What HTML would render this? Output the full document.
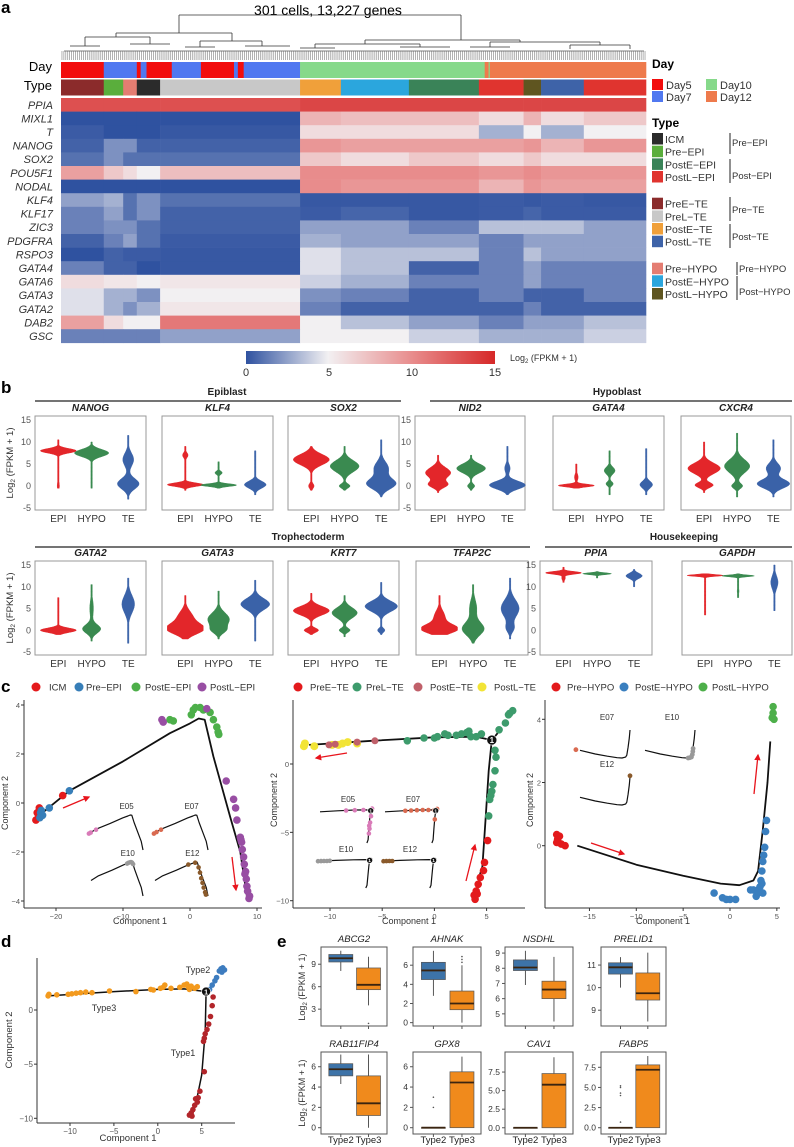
<!DOCTYPE html>
<html><head><meta charset="utf-8">
<style>
html,body{margin:0;padding:0;background:#fff;}
svg{display:block;font-family:"Liberation Sans",Arial,sans-serif;}
</style></head>
<body>
<svg id="fig" xmlns="http://www.w3.org/2000/svg" width="794" height="1147" viewBox="0 0 794 1147">
<defs>
<linearGradient id="cbar" x1="0" x2="1" y1="0" y2="0">
<stop offset="0" stop-color="#2f52a0"/><stop offset="0.33" stop-color="#f2f0f2"/><stop offset="0.667" stop-color="#e88c8c"/><stop offset="1" stop-color="#d62828"/>
</linearGradient>
<marker id="arr" viewBox="0 0 10 10" refX="8" refY="5" markerWidth="5" markerHeight="5" orient="auto"><path d="M0,0L10,5L0,10z" fill="#e8141c"/></marker>
</defs>
</svg>
<script>
// ---------------- DATA ----------------
const genes=['PPIA','MIXL1','T','NANOG','SOX2','POU5F1','NODAL','KLF4','KLF17','ZIC3','PDGFRA','RSPO3','GATA4','GATA6','GATA3','GATA2','DAB2','GSC'];
const typeBounds=[0,22,32,39,51,123,144,179,215,238,247,269,301];
const typeSegColors=['#8b2b2b','#5aae3c','#e47d72','#2b2b2b','#c8c8c8','#f0a03a','#2ba6dd','#3a8358','#e0342f','#5f5520','#3e63a8','#e0342f'];
const dayBounds=[0,22,39,41,44,57,72,89,91,94,123,218,222,301];
const daySegColors=['#f20d0d','#5078f0','#f20d0d','#5078f0','#f20d0d','#5078f0','#f20d0d','#5078f0','#f20d0d','#5078f0','#86d98a','#ee7a4c','#ee7a4c'];
const geneLevels=[
[13,13,13,13,13,13.5,13.5,13.5,13.5,13.5,13.5,13.5],
[0,0,0,0,0,8,7.5,7.5,6,8,6,7],
[0.3,0,0,0,0.2,6,6,6,3,5,3,5],
[0.5,2,2,0.5,0.5,9.5,9,9,9,9.5,8,9.5],
[1,2,1,1,1,7,6,7,6,7,6,6],
[9,7,6,5,7.5,10,10,10,9.5,10,9.5,9.5],
[0,0,0,0,0,10,9.5,9.5,8,9.5,9,9],
[2.5,3,1,2,1,0.2,0.2,0.2,0.3,0.2,0.3,0.2],
[1.5,2.5,1,2,0.5,0.3,0.6,0.2,0.3,0.6,0.3,0.3],
[1.5,2,2,1,0.5,2.5,2.5,1.5,3.5,3.5,3.5,2.5],
[0.5,1.5,2.5,1,0.3,3,2.5,2.5,1.5,2.5,2.5,2.5],
[0,0.5,0.3,0.3,0.2,4.5,3.5,3.5,1.5,3.5,2.5,2.5],
[1.5,0.5,0.5,0,0.2,4.5,3.5,0.5,1.5,2.5,1.5,1.5],
[6,5.5,5.5,5,5.5,4,3,1.5,1.5,2.5,1.5,1.5],
[4.5,3,3,2,5,2,1.5,0.5,1.5,0.5,0.5,1.5],
[4.5,3,2,3,5.5,1.5,0.5,0.5,0.5,1.5,0.5,0.5],
[9,6,5,5,11,5,3.5,2.5,1.5,2.5,2.5,3.5],
[1.5,1.5,1.5,1.5,2.5,5,5,4,3,3,3,4]];
const cbarTicks=[0,5,10,15];

// violins: [min,max,[[mode,sd,weight],...]] for EPI, HYPO, TE
const vGroups=['EPI','HYPO','TE'];
const vRow1Genes=['NANOG','KLF4','SOX2','NID2','GATA4','CXCR4'];
const vRow2Genes=['GATA2','GATA3','KRT7','TFAP2C','PPIA','GAPDH'];
const vData={
NANOG:[[-0.5,10.5,[[8,0.5,1],[0,1,0.06]]],[-0.5,10,[[7.5,0.8,0.95]]],[-3,11.5,[[0.5,1.2,0.6],[6,1.5,0.3]]]],
KLF4:[[-1,9,[[0.3,0.4,1],[7,0.6,0.15]]],[-0.5,5.5,[[0.2,0.3,1],[3,0.4,0.2]]],[-2,8,[[0.3,0.8,0.6]]]],
SOX2:[[-1,9,[[6,1.2,1],[0,0.6,0.15]]],[-1,9,[[4.5,1.3,0.8],[0,0.5,0.3]]],[-2.5,10.5,[[0.5,1.2,0.8],[4,1.5,0.4]]]],
NID2:[[-1.5,7,[[3,1.2,0.7],[0.3,0.7,0.5]]],[-1,7,[[4,1,0.8],[0,0.5,0.2]]],[-2,9,[[0.2,0.9,1],[4,1,0.15]]]],
GATA4:[[-0.5,5,[[0.1,0.3,1],[2,0.8,0.1]]],[-2,8,[[3.5,0.8,0.3],[0.5,0.5,0.2]]],[-2,8.5,[[0.3,0.8,0.35]]]],
CXCR4:[[-1.5,10,[[4,1.2,0.9],[0.2,0.6,0.5]]],[-2.5,12,[[4.5,1.5,0.7],[0,0.6,0.3]]],[-2.5,10.5,[[0.5,1,0.9],[4,1.2,0.4]]]],
GATA2:[[-1,7.5,[[0,0.5,1]]],[-2.5,10.5,[[0.3,1,0.5],[5,2,0.1]]],[-3,12,[[6,2,0.35]]]],
GATA3:[[-2,8,[[0.3,1.2,1],[3,1.5,0.4]]],[-2,9,[[2.5,1.5,0.6],[0,0.8,0.3]]],[-2.5,11.5,[[6,1.3,0.8]]]],
KRT7:[[-1,8.5,[[4.5,1,1],[0,0.5,0.4]]],[-1.5,8,[[4,1.2,0.7],[0,0.5,0.3]]],[-1,11,[[5.5,1.2,0.9],[0,0.5,0.2]]]],
TFAP2C:[[-1,8,[[0.3,1,1],[3,1.5,0.3]]],[-3,10.5,[[0.3,1.5,0.6],[5,2,0.2]]],[-2,12,[[5,2,0.5],[0.5,1,0.2]]]],
PPIA:[[11,14.5,[[13.2,0.3,1],[12,0.5,0.1]]],[12,13.5,[[13,0.2,0.8]]],[10,14,[[12.5,0.6,0.45]]]],
GAPDH:[[3.5,13,[[12.6,0.2,1],[8,2,0.03]]],[7.5,13,[[12.5,0.2,0.9],[9,0.7,0.05]]],[4.5,15,[[11,1.5,0.2]]]]};
const vTicks=[15,10,5,0,-5];

// panel c1
const c1Labels=['ICM','Pre-EPI','PostE-EPI','PostL-EPI'];
const c1Colors=['#e41a1c','#377eb8','#4daf4a','#984ea3'];
const c1ICM=[[-23,-0.7],[-22.8,-0.4],[-22.5,-0.2],[-22.6,-0.5],[-19,0.3]];
const c1PreEPI=[[-22.3,-0.4],[-22.2,-0.3],[-22,-0.5],[-21,-0.2],[-18,0.5],[-22.4,-0.6]];
const c1PostE=[[0.5,3.8],[0.8,3.9],[1.5,3.9],[2,3.8],[0.2,3.6],[3,3.7],[3.5,3.4],[4,3.1],[4.2,2.9],[4.3,2.8],[-3,3.4],[-2.5,3.35]];
const c1PostL=[[-4.2,3.4],[-4,3.3],[2.5,3.85],[5.4,0.9],[6.5,0.15],[6.8,-0.2],[7,-0.7],[7.5,-1.4],[7.7,-1.6],[7.8,-1.9],[8,-2.2],[8.1,-2.5],[8.3,-2.8],[8.4,-3.1],[8.5,-3.4],[8.6,-3.6],[8.8,-3.9],[8.9,-3.8],[7.6,-1.5],[8.2,-2.9]];
const c1Traj=[[-22.5,-0.5],[-18,0.5],[-10,1.7],[-3,2.85],[0,3.25],[1.3,3.45],[2.2,3.4],[3.5,1.9],[6,-0.57],[7.5,-2],[8.5,-3.8]];
const c1XTicks=[-20,-10,0,10];
const c1YTicks=[-4,-2,0,2,4];
const c1InsetE05=[[-22,-0.4],[-21,-0.2],[-18,0.4]];
const c1InsetE07=[[-22,-0.4],[-20.5,-0.1],[-18,0.4]];
const c1InsetE10=[[-1,3.1],[0,3.3],[1,3.4],[1.5,3.4],[2,3.3],[2.6,3.0]];
const c1InsetE12=[[-3,2.9],[1,3.3],[3,2.3],[3.8,1.2],[4.5,0],[5.3,-1],[6,-2],[6.8,-3],[7.3,-3.5]];

// panel c2
const c2Labels=['PreE-TE','PreL-TE','PostE-TE','PostL-TE'];
const c2Colors=['#e31a1c','#3d9b6c','#c0606a','#f2e436'];
const c2PreE=[[5.1,-5.6],[4.8,-7.2],[4.7,-7.8],[4.4,-8.3],[4.2,-8.8],[4.0,-9.3],[3.8,-9.6],[3.9,-9.9],[4.1,-9.5]];
const c2PreL=[[-2.6,1.7],[-1,1.9],[0,1.9],[0.3,2],[1,2.2],[1.3,2.1],[2.1,2.1],[2.6,2.2],[3.1,2.3],[3.5,2.0],[3.3,2.4],[4,2],[4.5,2.2],[6.2,2.5],[6.8,3],[7.2,3.7],[7.5,3.9],[7.1,3.6],[5.8,1],[5.9,0.5],[5.8,-0.5],[5.6,-1.5],[5.5,-2],[5.4,-2.3],[5.3,-2.6],[5.2,-3.8]];
const c2PostE=[[-10.1,1.4],[-9.5,1.45],[-7.4,1.6],[-5.7,1.7]];
const c2PostL=[[-12.5,1.3],[-12.4,1.5],[-11.5,1.3],[-9.2,1.4],[-8.8,1.5],[-8.3,1.6],[-7.4,1.5],[-9.8,1.4]];
const c2TrajA=[[-12,1.4],[-6,1.7],[0,1.95],[4,2.0],[5.5,1.75]];
const c2TrajB=[[5.5,1.75],[5.2,-0.5],[4.9,-4],[4.6,-7.5],[4.2,-8.5]];
const c2TrajC=[[5.5,1.75],[6,2.2],[6.3,2.6]];
const c2Node=[5.5,1.75];
const c2XTicks=[-10,-5,0,5];
const c2YTicks=[-10,-5,0];
const c2InsetE05=[[-3,1.8],[0,1.9],[3,1.95],[5.5,1.8],[6,2.4],[5.6,0],[5.3,-2],[5.1,-4],[4.9,-5.5],[5.0,-3]];
const c2InsetE07=[[-5,1.7],[-3,1.8],[-1,1.9],[1,1.95],[3,1.95],[5,1.9],[6,2.3],[5.2,-1]];
const c2InsetE10=[[-12,1.4],[-11,1.45],[-10,1.5],[-9,1.5],[-8,1.55]];
const c2InsetE12=[[-11.5,1.4],[-10.5,1.45],[-9.5,1.5],[-8.5,1.5]];

// panel c3
const c3Labels=['Pre-HYPO','PostE-HYPO','PostL-HYPO'];
const c3Colors=['#e31a1c','#3a7fbf','#4daf4a'];
const c3Pre=[[-18.5,0.35],[-18.4,0.2],[-18.2,0.3],[-18.3,0.1],[-18,0.05],[-17.6,0.0],[-18.5,0.1]];
const c3PostE=[[-1.7,-1.5],[-0.8,-1.65],[-0.4,-1.7],[0,-1.7],[0.6,-1.7],[2.2,-1.4],[2.8,-1.6],[3,-1.4],[3.2,-1.3],[3.5,-1.5],[3.3,-1.1],[3.4,-0.8],[3.5,-0.5],[3.6,-0.3],[3.7,-0.05],[3.8,0.45],[3.9,0.8],[3.0,-1.5],[2.5,-1.4],[3.4,-1.2]];
const c3PostL=[[4.6,4.4],[4.6,4.2],[4.7,4.0],[4.5,4.05]];
const c3Traj=[[-16.3,0],[-10,-0.6],[-5,-0.95],[-1,-1.2],[1,-1.25],[2.5,-1.1],[3,-0.8],[3.5,0.5],[4,2],[4.3,3.3]];
const c3XTicks=[-15,-10,-5,0,5];
const c3YTicks=[0,2,4];
const c3InsetE07=[[-18,0.1]];
const c3InsetE10=[[1.5,-1.25],[2.2,-1.2],[2.8,-1.1],[3.2,-0.7],[3.4,-0.2],[3.5,0.3]];
const c3InsetE12=[[4.3,3.5]];

// panel d
const dType1=[[6.3,1.2],[6.2,0.4],[6.0,-0.6],[5.8,-1.3],[5.6,-1.8],[5.4,-2.2],[5.3,-2.6],[5.2,-2.9],[5.3,-5.7],[4.8,-7.5],[4.6,-8.1],[4.3,-8.2],[4.2,-8.8],[4.0,-9.2],[3.8,-9.5],[3.6,-9.7],[3.9,-9.8],[4.5,-8.5]];
const dType2=[[5.9,1.9],[6.2,2.3],[6.5,2.7],[6.7,3],[7,3.6],[7.2,3.8],[7.4,3.9],[7.6,3.7],[7.3,3.5]];
const dType3=[[-12.5,1.3],[-12.4,1.45],[-11.5,1.4],[-10.2,1.45],[-9.8,1.5],[-9.3,1.55],[-8.8,1.6],[-8.2,1.65],[-7.5,1.6],[-5.5,1.75],[-2.5,1.7],[-0.8,1.9],[-0.5,1.85],[0.3,2],[0.6,2.1],[0.8,2.3],[1.5,2.0],[2.5,2.1],[3,2.3],[3.3,2.4],[3.5,2.1],[3.8,2.2],[4.2,2.0],[4.5,2.15],[3.6,1.9]];
const dTrajA=[[-12.5,1.3],[-5,1.7],[0,1.9],[3,1.95],[5.5,1.7]];
const dTrajB=[[5.5,1.7],[5.4,-2],[5,-6],[4.5,-8]];
const dTrajC=[[5.5,1.7],[6.1,2.2]];
const dNode=[5.5,1.7];
const dXTicks=[-10,-5,0,5];
const dYTicks=[-10,-5,0];

// panel e boxplots: [min,q1,med,q3,max]
const eGenes=['ABCG2','AHNAK','NSDHL','PRELID1','RAB11FIP4','GPX8','CAV1','FABP5'];
const eType2=[[8.1,9.3,9.8,10.3,10.8],[2.8,4.5,5.45,6.3,7.5],[6.9,7.85,8.05,8.55,9.15],[10,10.6,10.9,11.1,11.35],[4.3,5.1,5.75,6.3,7.2],[0,0,0,0,0],[0,0,0,0,0],[0,0,0,0,0]];
const eType3=[[3.5,5.6,6.25,8.5,10],[0,1.35,2,3.3,6],[4.5,6.0,6.6,7.15,8.75],[8.5,9.45,9.75,10.65,11.55],[0,1.2,2.4,5.1,7.2],[0,0,4.45,5.5,7],[0,0,5.8,7.3,9.5],[0,0,7.2,7.8,8.9]];
const eOut2=[[],[],[],[],[],[2,3],[],[0.7,4,4.3,5,5.2]];
const eOut3=[[1.1],[6.3,6.6,6.9],[],[],[],[],[],[]];
const eYLim=[[0.75,11.3],[-0.35,7.9],[4.2,9.4],[8.3,11.8],[-0.62,7.45],[-0.62,7.45],[-0.84,10.2],[-0.78,9.4]];
const eTicks=[[3,6,9],[0,2,4,6],[5,6,7,8,9],[9,10,11],[0,2,4,6],[0,2,4,6],[0,2.5,5,7.5],[0,2.5,5,7.5]];
const eTickLabels=[['3','6','9'],['0','2','4','6'],['5','6','7','8','9'],['9','10','11'],['0','2','4','6'],['0','2','4','6'],['0.0','2.5','5.0','7.5'],['0.0','2.5','5.0','7.5']];

// ---------------- HELPERS ----------------
const NS='http://www.w3.org/2000/svg';
const svg=document.getElementById('fig');
function mk(tag,attrs,parent,name){
  const e=document.createElementNS(NS,tag);
  for(const k in attrs) e.setAttribute(k,attrs[k]);
  
  
  (parent||svg).appendChild(e);
  return e;
}
function txt(x,y,s,attrs,parent,name){
  const e=mk('text',Object.assign({x:x,y:y},attrs||{}),parent,name);
  e.textContent=s; return e;
}
function grp(name){return mk('g',{},svg,name);}
function lerp(a,b,t){return a+(b-a)*t;}
const hStops=[[0,[47,82,160]],[5,[242,240,242]],[10,[232,140,140]],[15,[214,40,40]]];
function heatColor(v){
  v=Math.max(0,Math.min(15,v));
  for(let i=0;i<hStops.length-1;i++){
    const [a,ca]=hStops[i],[b,cb]=hStops[i+1];
    if(v<=b){const t=(v-a)/(b-a);return 'rgb('+ca.map((c,j)=>Math.round(lerp(c,cb[j],t))).join(',')+')';}
  }
  return 'rgb(214,40,40)';
}

// ---------------- PANEL A ----------------
txt(1,13,'a',{'font-size':17,'font-weight':'bold'},svg,'panel-a-label');
txt(328,15,'301 cells, 13,227 genes',{'font-size':14,'text-anchor':'middle'},svg,'heatmap-title');
const HX0=61,HW=585,HY0=98,RH=13.6;
const hx=c=>HX0+c*HW/301;
const dend=grp('dendrogram');
const dl=[[179,15,461,15],[179,15,179,33],[461,15,461,40],[116,33,232,33],[116,33,116,37],[232,33,232,41],
[85,37,150,37],[85,37,85,46],[150,37,150,44],[200,41,262,41],[200,41,200,47],[262,41,262,46],
[365,40,520,40],[365,40,365,44],[520,40,520,42],[315,44,420,44],[315,44,315,48],[420,44,420,47],
[490,42,600,42],[490,42,490,47],[600,42,600,45],[570,45,630,45],[570,45,570,49],[630,45,630,49],
[70,46,100,46],[130,44,170,44],[185,47,215,47],[245,46,290,46],[300,48,335,48],[400,47,450,47],[470,47,510,47]];
dl.forEach(l=>mk('line',{x1:l[0],y1:l[1],x2:l[2],y2:l[3],stroke:'#333','stroke-width':0.8},dend,'dendrogram-branch'));
mk('line',{x1:64,y1:51,x2:644,y2:51,stroke:'#555','stroke-width':0.8},dend,'dendrogram-leaf-base');
for(let i=0;i<301;i++){
  mk('line',{x1:hx(i+0.5),y1:51,x2:hx(i+0.5),y2:60,stroke:'#666','stroke-width':0.5},dend,'dendrogram-leaf');
}
txt(52,71,'Day',{'font-size':13,'text-anchor':'end'},svg,'day-row-label');
txt(52,90,'Type',{'font-size':13,'text-anchor':'end'},svg,'type-row-label');
const dayG=grp('day-annotation-bar');
for(let s=0;s<dayBounds.length-1;s++){
  mk('rect',{x:hx(dayBounds[s]),y:62,width:hx(dayBounds[s+1])-hx(dayBounds[s])+0.3,height:16,fill:daySegColors[s]},dayG,'day-segment');
}
mk('rect',{x:hx(220),y:62,width:1.2,height:16,fill:'#86d98a'},dayG,'day-segment');
const typeG=grp('type-annotation-bar');
for(let s=0;s<typeBounds.length-1;s++){
  mk('rect',{x:hx(typeBounds[s]),y:79.5,width:hx(typeBounds[s+1])-hx(typeBounds[s])+0.3,height:16,fill:typeSegColors[s]},typeG,'type-segment');
}
const heat=grp('heatmap');
genes.forEach((g,gi)=>{
  const y=HY0+gi*RH;
  geneLevels[gi].forEach((v,s)=>{
    mk('rect',{x:hx(typeBounds[s]),y:y,width:hx(typeBounds[s+1])-hx(typeBounds[s])+0.3,height:RH+0.3,fill:heatColor(v)},heat,'heatmap-cell');
  });
  txt(53,y+RH/2+4,g,{'font-size':11,'font-style':'italic','text-anchor':'end',fill:'#333'},svg,'gene-label');
});
mk('rect',{x:246,y:351,width:249,height:13,fill:'url(#cbar)'},svg,'colorbar');
cbarTicks.forEach(t=>{
  const x=246+t/15*249;
  txt(x,376,String(t),{'font-size':11,'text-anchor':'middle',fill:'#333'},svg,'colorbar-tick-label');
});
const cbt=txt(510,361,'Log',{'font-size':9,fill:'#333'},svg,'colorbar-title');
const cbs=document.createElementNS(NS,'tspan');cbs.setAttribute('font-size',6);cbs.setAttribute('dy',2);cbs.textContent='2';cbt.appendChild(cbs);
const cbs2=document.createElementNS(NS,'tspan');cbs2.setAttribute('dy',-2);cbs2.textContent=' (FPKM + 1)';cbt.appendChild(cbs2);

// legend
const leg=grp('heatmap-legend');
txt(652,68,'Day',{'font-size':12,'font-weight':'bold'},leg,'legend-title-day');
const dayLeg=[['Day5','#f20d0d',652,79],['Day7','#5078f0',652,91],['Day10','#86d98a',706,79],['Day12','#ee7a4c',706,91]];
dayLeg.forEach(d=>{mk('rect',{x:d[2],y:d[3],width:11,height:11,fill:d[1]},leg,'legend-swatch');txt(d[2]+14,d[3]+10,d[0],{'font-size':11,fill:'#333'},leg,'legend-entry');});
txt(652,127,'Type',{'font-size':12,'font-weight':'bold'},leg,'legend-title-type');
const typeLeg=[['ICM','#2b2b2b',133],['Pre−EPI','#5aae3c',145.7],['PostE−EPI','#3a8358',158.4],['PostL−EPI','#e0342f',171],
['PreE−TE','#8b2b2b',197.7],['PreL−TE','#c8c8c8',210.4],['PostE−TE','#f0a03a',223],['PostL−TE','#3e63a8',235.7],
['Pre−HYPO','#e47d72',262.7],['PostE−HYPO','#2ba6dd',275.3],['PostL−HYPO','#5f5520',288]];
typeLeg.forEach(d=>{mk('rect',{x:652,y:d[2],width:11,height:11.5,fill:d[1]},leg,'legend-swatch');txt(665,d[2]+10,d[0],{'font-size':10.5,fill:'#333'},leg,'legend-entry');});
const brk=[[730,133,154,'Pre−EPI',146],[730,159,183,'Post−EPI',179],[730,197,221,'Pre−TE',213],[730,224,248,'Post−TE',240],[737,262,275,'Pre−HYPO',272],[737,276,300,'Post−HYPO',295]];
brk.forEach(b=>{mk('line',{x1:b[0],y1:b[1],x2:b[0],y2:b[2],stroke:'#222','stroke-width':1},leg,'legend-bracket');txt(b[0]+2,b[4],b[3],{'font-size':9.5,fill:'#333'},leg,'legend-group-label');});

// ---------------- PANEL B ----------------
txt(1,393,'b',{'font-size':17,'font-weight':'bold'},svg,'panel-b-label');
const vCols={EPI:'#e3262a',HYPO:'#3a8a50',TE:'#3a62a8'};
const headers=[['Epiblast',227,35,401,395,401],['Hypoblast',617,430,792,395,401],['Trophectoderm',308,35,530,540,547],['Housekeeping',684,545,792,540,547]];
headers.forEach(h=>{txt(h[1],h[4],h[0],{'font-size':10,'font-weight':'bold','text-anchor':'middle',fill:'#222'},svg,'violin-group-header');
  mk('line',{x1:h[2],y1:h[5],x2:h[3],y2:h[5],stroke:'#222','stroke-width':1.2},svg,'violin-group-rule');});
const row1X=[[35,146],[162,273],[288,399],[415,525],[553,664],[681,791]];
const row2X=[[35,146],[162,273],[288,399],[416,528],[540,652],[682,792]];
function violinRow(genesR,xs,top,bot,y15,ym5,axisIdx,labY,titleY){
  const vy=v=>y15+(15-v)*(ym5-y15)/20;
  genesR.forEach((g,i)=>{
    const [x0,x1]=xs[i];
    const pg=grp('violin-panel-'+g);
    mk('rect',{x:x0,y:top,width:x1-x0,height:bot-top,fill:'none',stroke:'#999','stroke-width':1},pg,'violin-panel-frame');
    txt((x0+x1)/2,titleY,g,{'font-size':10,'font-weight':'bold','font-style':'italic','text-anchor':'middle',fill:'#222'},pg,'violin-gene-title');
    if(axisIdx.includes(i)){
      vTicks.forEach(t=>{txt(x0-4,vy(t)+3,String(t),{'font-size':9,'text-anchor':'end',fill:'#555'},pg,'y-tick-label');});
    }
    const fr=[0.21,0.51,0.84];
    vGroups.forEach((grpName,k)=>{
      const cx=x0+fr[k]*(x1-x0);
      const [mn,mx,modes]=vData[g][k];
      const L=[],R=[];
      for(let v=mn;v<=mx+1e-9;v+=0.1){
        let d=0;modes.forEach(m=>{d+=m[2]*Math.exp(-0.5*Math.pow((v-m[0])/m[1],2));});
        const hw=Math.max(0.7,Math.min(18,18*d));
        L.push([cx-hw,vy(v)]);R.push([cx+hw,vy(v)]);
      }
      const pts=L.concat(R.reverse()).map(p=>p[0].toFixed(1)+','+p[1].toFixed(1)).join(' ');
      mk('polygon',{points:pts,fill:vCols[grpName],stroke:vCols[grpName],'stroke-width':0.5},pg,'violin-'+grpName.toLowerCase());
      txt(cx,labY,grpName,{'font-size':10,'text-anchor':'middle',fill:'#333'},pg,'x-tick-label');
    });
  });
}
violinRow(vRow1Genes,row1X,416,510,420,508,[0,3],522,411);
violinRow(vRow2Genes,row2X,561,655,565,652,[0,4],667,556);
function yTitle(x,y,name){
  const t=txt(x,y,'Log',{'font-size':9.5,'text-anchor':'middle',fill:'#333',transform:'rotate(-90 '+x+' '+y+')'},svg,name);
  const s1=document.createElementNS(NS,'tspan');s1.setAttribute('font-size',6.5);s1.setAttribute('dy',2);s1.textContent='2';t.appendChild(s1);
  const s2=document.createElementNS(NS,'tspan');s2.setAttribute('dy',-2);s2.textContent=' (FPKM + 1)';t.appendChild(s2);
}
yTitle(13,463,'y-axis-title-violin-row1');
yTitle(13,608,'y-axis-title-violin-row2');

// ---------------- PANEL C ----------------
txt(1,692,'c',{'font-size':17,'font-weight':'bold'},svg,'panel-c-label');
function legendRow(labels,colors,dotX,textX,y){
  labels.forEach((l,i)=>{mk('circle',{cx:dotX[i],cy:y,r:4.5,fill:colors[i]},svg,'scatter-legend-marker');
    txt(textX[i],y+3.5,l.replace(/-/g,'−'),{'font-size':9.5,fill:'#333'},svg,'scatter-legend-entry');});
}
legendRow(c1Labels,c1Colors,[36,79,136,202],[49,86,145,210],687);
legendRow(c2Labels,c2Colors,[298,357,418,482],[310,366,430,494],687);
legendRow(c3Labels,c3Colors,[556,624,703],[567,635,712],687);

function makeAxes(cfg){
  const g=grp(cfg.name);
  const sx=x=>cfg.x0+x*cfg.kx, sy=y=>cfg.y0-y*cfg.ky;
  mk('line',{x1:cfg.left,y1:cfg.top,x2:cfg.left,y2:cfg.bottom,stroke:'#333','stroke-width':1},g,'y-axis-line');
  mk('line',{x1:cfg.left,y1:cfg.bottom,x2:cfg.right,y2:cfg.bottom,stroke:'#333','stroke-width':1},g,'x-axis-line');
  cfg.xt.forEach(t=>{mk('line',{x1:sx(t),y1:cfg.bottom,x2:sx(t),y2:cfg.bottom+3,stroke:'#333'},g,'x-tick');
    txt(sx(t),cfg.bottom+11,String(t).replace('-','−'),{'font-size':cfg.fs,'text-anchor':'middle',fill:'#555'},g,'x-tick-label');});
  cfg.yt.forEach(t=>{mk('line',{x1:cfg.left-3,y1:sy(t),x2:cfg.left,y2:sy(t),stroke:'#333'},g,'y-tick');
    txt(cfg.left-4,sy(t)+3,String(t).replace('-','−'),{'font-size':cfg.fs,'text-anchor':'end',fill:'#555'},g,'y-tick-label');});
  txt(cfg.xtX,cfg.xtY,'Component 1',{'font-size':cfg.fs+1.5,'text-anchor':'middle',fill:'#333'},g,'x-axis-title');
  txt(cfg.ytX,cfg.ytY,'Component 2',{'font-size':cfg.fs+1.5,'text-anchor':'middle',fill:'#333',transform:'rotate(-90 '+cfg.ytX+' '+cfg.ytY+')'},g,'y-axis-title');
  return {g,sx,sy};
}
function pathOf(pts,f){return pts.map((p,i)=>(i?'L':'M')+f(p)[0].toFixed(1)+','+f(p)[1].toFixed(1)).join('');}
function drawLine(g,pts,f,w,name){mk('path',{d:pathOf(pts,f),fill:'none',stroke:'#111','stroke-width':w,'stroke-linejoin':'round'},g,name);}
function drawPts(g,pts,f,r,col,name){pts.forEach(p=>{const q=f(p);mk('circle',{cx:q[0].toFixed(1),cy:q[1].toFixed(1),r:r,fill:col},g,name);});}
function arrow(g,x1,y1,x2,y2){mk('line',{x1,y1,x2,y2,stroke:'#e8141c','stroke-width':1.3,'marker-end':'url(#arr)'},g,'direction-arrow');}
function insetMap(bbox,box){return p=>[box[0]+(p[0]-bbox[0])/(bbox[1]-bbox[0])*(box[1]-box[0]), box[3]-(p[1]-bbox[2])/(bbox[3]-bbox[2])*(box[3]-box[2])];}
function node(g,q,r){mk('circle',{cx:q[0],cy:q[1],r:r,fill:'#111',stroke:'#fff','stroke-width':0.6},g,'branch-node');
  txt(q[0],q[1]+r*0.6,'1',{'font-size':r*1.6,'text-anchor':'middle',fill:'#fff','font-weight':'bold'},g,'branch-node-label');}

// c1
const A1=makeAxes({name:'trajectory-plot-epi',x0:190,kx:6.7,y0:803,ky:24.5,left:24,right:262,top:700,bottom:908,xt:c1XTicks,yt:c1YTicks,fs:7.5,xtX:140,xtY:924,ytX:8,ytY:803});
const f1=p=>[A1.sx(p[0]),A1.sy(p[1])];
drawLine(A1.g,c1Traj,f1,1.8,'trajectory-line');
drawPts(A1.g,c1PostE,f1,3.8,c1Colors[2],'point-poste-epi');
drawPts(A1.g,c1PostL,f1,3.8,c1Colors[3],'point-postl-epi');
drawPts(A1.g,c1ICM,f1,3.8,c1Colors[0],'point-icm');
drawPts(A1.g,c1PreEPI,f1,3.8,c1Colors[1],'point-pre-epi');
arrow(A1.g,63,808,89,797);arrow(A1.g,232,857,236,890);
const bb1=[-22.5,8.5,-3.8,3.45];
[['E05',[88,143,815,850],c1InsetE05,'#d97bb8'],['E07',[153,208,815,850],c1InsetE07,'#d96a50'],['E10',[91,143,862,896],c1InsetE10,'#999999'],['E12',[155,208,862,896],c1InsetE12,'#8a5a2b']].forEach(s=>{
  const f=insetMap(bb1,s[1]);drawLine(A1.g,c1Traj,f,1.2,'inset-trajectory');drawPts(A1.g,s[2],f,2.3,s[3],'inset-point');
  txt(f([-3,3.45])[0]+4,f([0,3.45])[1]-6,s[0],{'font-size':8,'text-anchor':'middle',fill:'#333'},A1.g,'inset-label');});

// c2
const A2=makeAxes({name:'trajectory-plot-te',x0:434.4,kx:10.44,y0:764,ky:13.67,left:293,right:525,top:700,bottom:908,xt:c2XTicks,yt:c2YTicks,fs:7.5,xtX:409,xtY:924,ytX:277,ytY:800});
const f2=p=>[A2.sx(p[0]),A2.sy(p[1])];
drawLine(A2.g,c2TrajA,f2,1.8,'trajectory-line');drawLine(A2.g,c2TrajB,f2,1.8,'trajectory-line');drawLine(A2.g,c2TrajC,f2,1.8,'trajectory-line');
drawPts(A2.g,c2PreL,f2,3.8,c2Colors[1],'point-prel-te');
drawPts(A2.g,c2PreE,f2,3.8,c2Colors[0],'point-pree-te');
drawPts(A2.g,c2PostL,f2,4,c2Colors[3],'point-postl-te');
drawPts(A2.g,c2PostE,f2,3.5,c2Colors[2],'point-poste-te');
node(A2.g,f2(c2Node),5);
arrow(A2.g,347,753,316,758);arrow(A2.g,466,881,475,845);
const bb2=[-12,6.3,-8.5,2.6];
[['E05',[320,373,808,843],c2InsetE05,'#d97bb8'],['E07',[385,438,808,843],c2InsetE07,'#d96a50'],['E10',[318,372,858,888],c2InsetE10,'#999999'],['E12',[382,436,858,888],c2InsetE12,'#8a5a2b']].forEach(s=>{
  const f=insetMap(bb2,s[1]);drawLine(A2.g,c2TrajA,f,1.2,'inset-trajectory');drawLine(A2.g,c2TrajB,f,1.2,'inset-trajectory');drawLine(A2.g,c2TrajC,f,1.2,'inset-trajectory');
  drawPts(A2.g,s[2],f,2.3,s[3],'inset-point');node(A2.g,f(c2Node),3);
  txt(s[1][0]+28,s[1][2]-6,s[0],{'font-size':8,'text-anchor':'middle',fill:'#333'},A2.g,'inset-label');});

// c3
const A3=makeAxes({name:'trajectory-plot-hypo',x0:730,kx:9.37,y0:845.7,ky:31.6,left:545,right:780,top:700,bottom:908,xt:c3XTicks,yt:c3YTicks,fs:7.5,xtX:663,xtY:924,ytX:533,ytY:800});
const f3=p=>[A3.sx(p[0]),A3.sy(p[1])];
drawLine(A3.g,c3Traj,f3,1.8,'trajectory-line');
drawPts(A3.g,c3PostE,f3,3.8,c3Colors[1],'point-poste-hypo');
drawPts(A3.g,c3Pre,f3,3.8,c3Colors[0],'point-pre-hypo');
drawPts(A3.g,c3PostL,f3,3.8,c3Colors[2],'point-postl-hypo');
arrow(A3.g,591,843,624,854);arrow(A3.g,754,794,758,755);
const bb3=[-16.3,4.3,-1.25,3.3];
[['E07',[580,630,730,758],c3InsetE07,'#d96a50'],['E10',[645,695,730,758],c3InsetE10,'#999999'],['E12',[580,630,777,805],c3InsetE12,'#8a5a2b']].forEach(s=>{
  const f=insetMap(bb3,s[1]);drawLine(A3.g,c3Traj,f,1.2,'inset-trajectory');drawPts(A3.g,s[2],f,2.4,s[3],'inset-point');
  txt(s[1][0]+27,s[1][2]-10,s[0],{'font-size':8,'text-anchor':'middle',fill:'#333'},A3.g,'inset-label');});

// ---------------- PANEL D ----------------
txt(1,947,'d',{'font-size':17,'font-weight':'bold'},svg,'panel-d-label');
const AD=makeAxes({name:'trajectory-plot-types',x0:157.8,kx:8.78,y0:1010,ky:10.83,left:37,right:235,top:958,bottom:1123,xt:dXTicks,yt:dYTicks,fs:8,xtX:128,xtY:1141,ytX:12,ytY:1040});
const fd=p=>[AD.sx(p[0]),AD.sy(p[1])];
drawLine(AD.g,dTrajA,fd,1.5,'trajectory-line');drawLine(AD.g,dTrajB,fd,1.5,'trajectory-line');drawLine(AD.g,dTrajC,fd,1.5,'trajectory-line');
drawPts(AD.g,dType3,fd,2.8,'#f39a1e','point-type3');
drawPts(AD.g,dType2,fd,2.8,'#3d7cbf','point-type2');
drawPts(AD.g,dType1,fd,2.8,'#b2252a','point-type1');
node(AD.g,fd(dNode),4.5);
txt(198,973,'Type2',{'font-size':9,'text-anchor':'middle',fill:'#333'},AD.g,'type2-label');
txt(104,1011,'Type3',{'font-size':9,'text-anchor':'middle',fill:'#333'},AD.g,'type3-label');
txt(183,1056,'Type1',{'font-size':9,'text-anchor':'middle',fill:'#333'},AD.g,'type1-label');

// ---------------- PANEL E ----------------
txt(277,947,'e',{'font-size':17,'font-weight':'bold'},svg,'panel-e-label');
const eCols=[[321,387],[413,481],[505,573],[601,666]];
const eRows=[[947,1026,942],[1052,1134,1047]];
eGenes.forEach((g,i)=>{
  const [x0,x1]=eCols[i%4];const [top,bot,ty]=eRows[Math.floor(i/4)];
  const [lo,hi]=eYLim[i];const sy=v=>bot-(v-lo)/(hi-lo)*(bot-top);
  const pg=grp('boxplot-panel-'+g);
  mk('rect',{x:x0,y:top,width:x1-x0,height:bot-top,fill:'none',stroke:'#555','stroke-width':1},pg,'boxplot-frame');
  txt((x0+x1)/2,ty,g,{'font-size':9.5,'font-style':'italic','text-anchor':'middle',fill:'#222'},pg,'boxplot-gene-title');
  eTicks[i].forEach((t,k)=>{mk('line',{x1:x0-3,y1:sy(t),x2:x0,y2:sy(t),stroke:'#555'},pg,'y-tick');
    txt(x0-5,sy(t)+3,eTickLabels[i][k],{'font-size':8.5,'text-anchor':'end',fill:'#333'},pg,'y-tick-label');});
  const w=x1-x0;
  [[eType2[i],eOut2[i],'#3d73a8',0.3,'Type2'],[eType3[i],eOut3[i],'#f08a1c',0.72,'Type3']].forEach(b=>{
    const cx=x0+b[3]*w,hw=12;const s=b[0];
    mk('line',{x1:cx,y1:bot,x2:cx,y2:bot+3,stroke:'#555'},pg,'x-tick');
    mk('line',{x1:cx,y1:sy(s[0]),x2:cx,y2:sy(s[4]),stroke:'#444','stroke-width':0.9},pg,'whisker');
    mk('rect',{x:cx-hw,y:sy(s[3]),width:2*hw,height:Math.max(0.5,sy(s[1])-sy(s[3])),fill:b[2],stroke:'#555','stroke-width':0.7},pg,'box-'+b[4].toLowerCase());
    mk('line',{x1:cx-hw,y1:sy(s[2]),x2:cx+hw,y2:sy(s[2]),stroke:'#3a2410','stroke-width':1.8},pg,'median-line');
    b[1].forEach(o=>mk('circle',{cx:cx,cy:sy(o),r:0.8,fill:'#555'},pg,'outlier'));
    if(i>=4) txt(cx,1143,b[4],{'font-size':9.5,'text-anchor':'middle',fill:'#222'},pg,'x-tick-label');
  });
});
function yTitleE(x,y,name){
  const t=txt(x,y,'Log',{'font-size':9,'text-anchor':'middle',fill:'#333',transform:'rotate(-90 '+x+' '+y+')'},svg,name);
  const s1=document.createElementNS(NS,'tspan');s1.setAttribute('font-size',6);s1.setAttribute('dy',2);s1.textContent='2';t.appendChild(s1);
  const s2=document.createElementNS(NS,'tspan');s2.setAttribute('dy',-2);s2.textContent=' (FPKM + 1)';t.appendChild(s2);
}
yTitleE(305,987,'y-axis-title-box-row1');
yTitleE(305,1093,'y-axis-title-box-row2');
</script>
</body></html>
